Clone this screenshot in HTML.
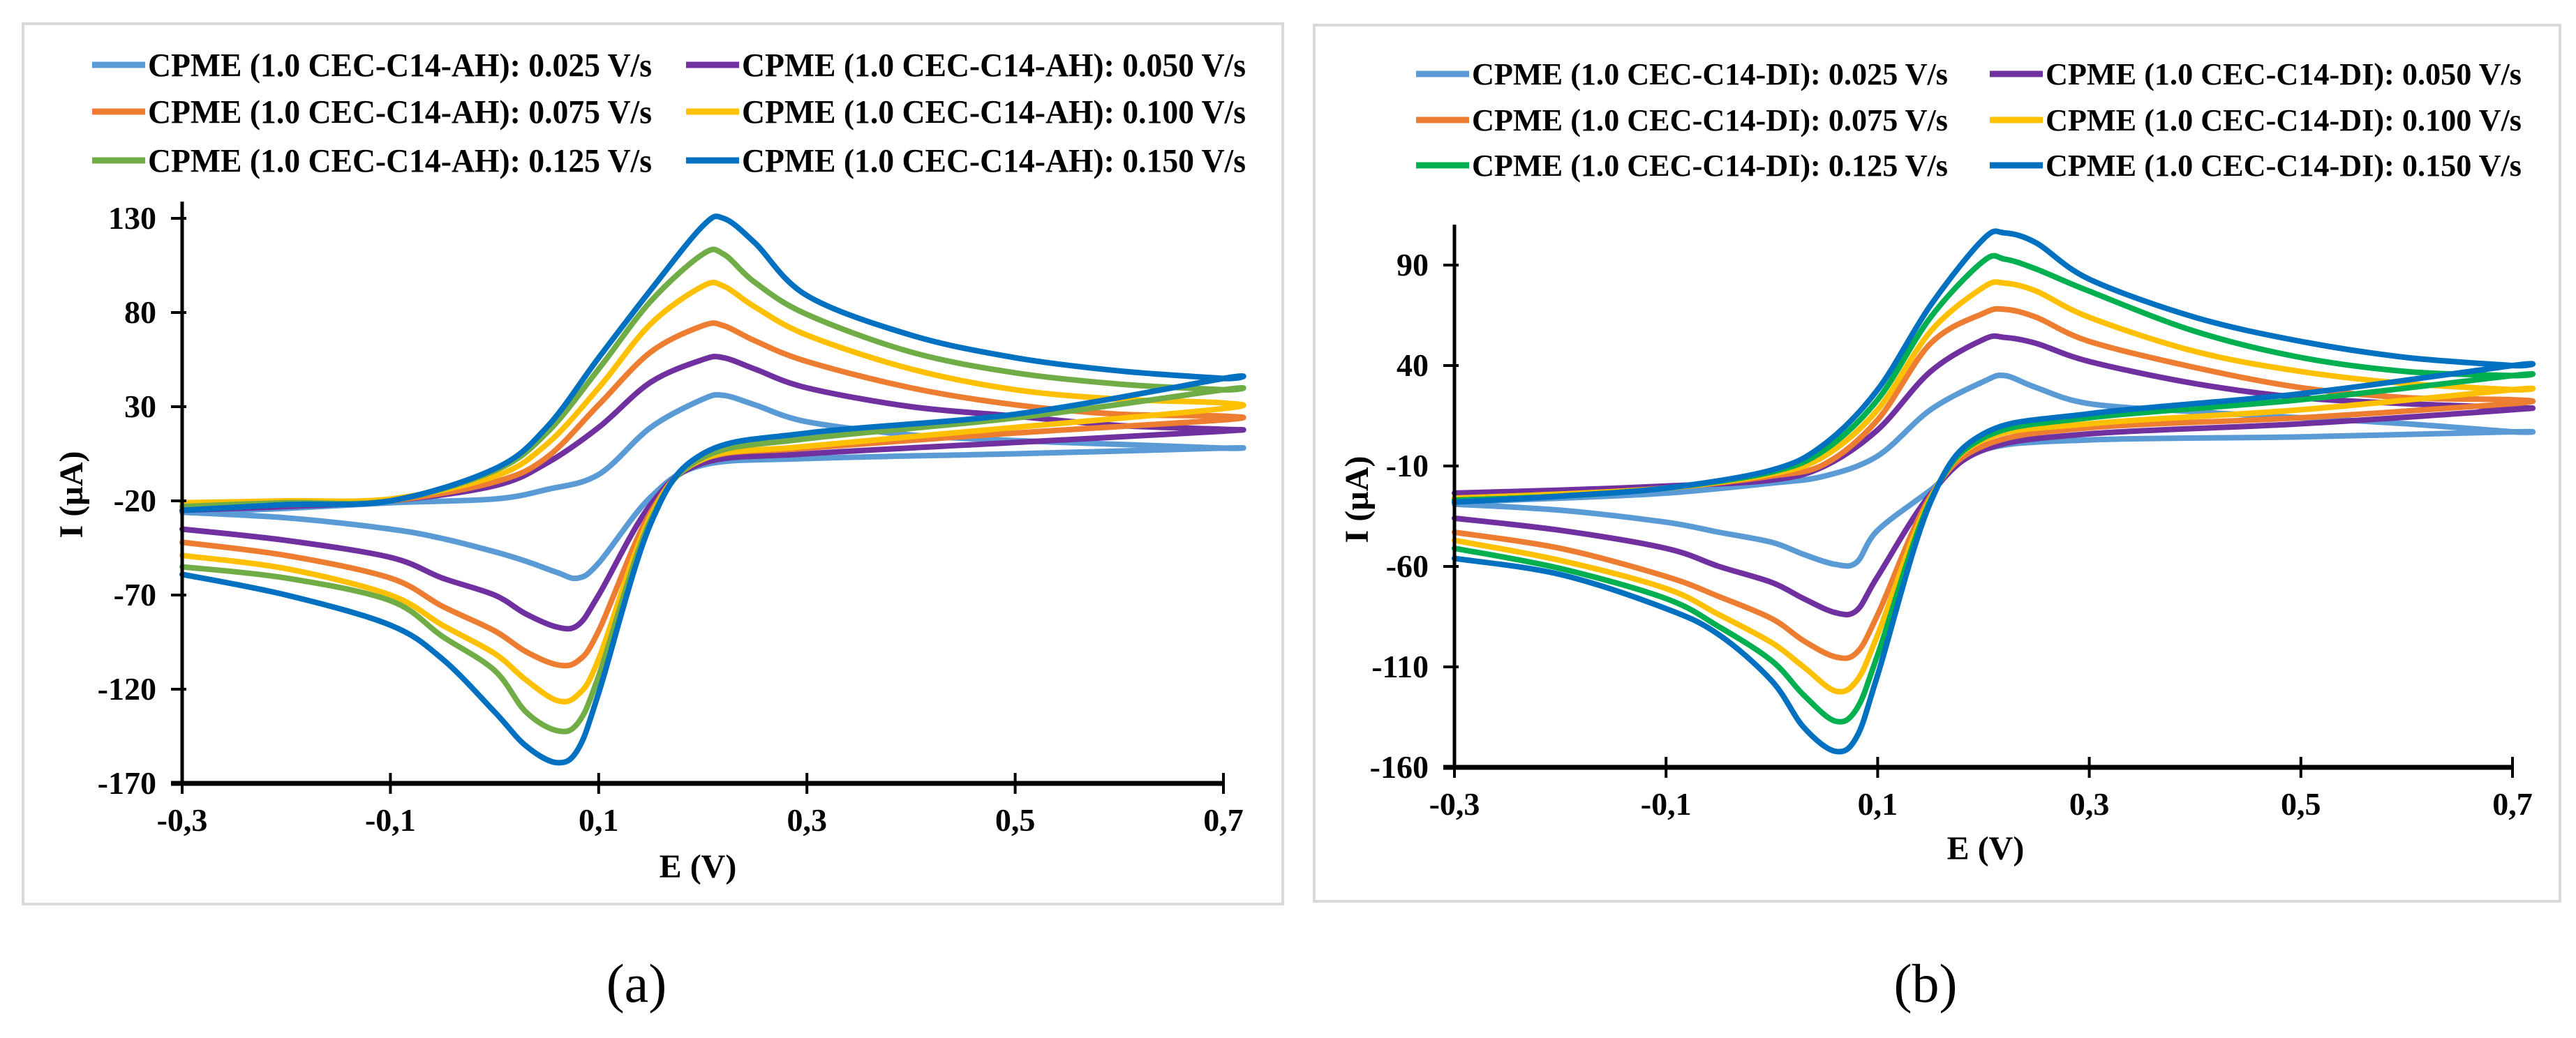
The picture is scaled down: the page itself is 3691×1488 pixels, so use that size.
<!DOCTYPE html>
<html><head><meta charset="utf-8"><style>
html,body{margin:0;padding:0;background:#fff;}
svg{display:block;}
text{font-family:"Liberation Serif",serif;}
</style></head><body>
<svg id="fig" width="3691" height="1488" viewBox="0 0 3691 1488" xmlns="http://www.w3.org/2000/svg"></svg>
<script>
// ---- shared data ----
const upperE = [-0.3,-0.2,-0.1,0,0.05,0.1,0.15,0.2,0.22,0.25,0.3,0.4,0.5,0.6,0.7];
const lowerE = [0.7,0.5,0.3,0.2,0.15,0.1,0.08,0.06,0.03,0,-0.05,-0.1,-0.2,-0.3];
const scanRates = ["0.025","0.050","0.075","0.100","0.125","0.150"];
const xTicks = [-0.3,-0.1,0.1,0.3,0.5,0.7];
const xTickLabels = ["-0,3","-0,1","0,1","0,3","0,5","0,7"];
// panel a
const aYTicks = [130,80,30,-20,-70,-120,-170];
const aUp = [
 [-26,-24,-21,-19,-14,-6,19,34,36,31,22,15,12,10,8],
 [-25,-23,-20,-12,0,19,43,55,56,50,40,30,25,20,18],
 [-23,-22,-20,-10,3,31,59,73,73,65,54,40,31,26,25],
 [-21,-20,-19,-7,10,40,74,94,94,83,68,50,39,34,32],
 [-23,-21,-20,-4,16,50,86,111,111,96,79,59,48,42,39],
 [-25,-22,-20,-3,19,56,92,126,130,117,89,68,56,49,45]];
const aLow = [
 [8,5,2.5,-1,-18,-53,-61,-58,-52,-47,-40,-35,-29,-26],
 [17,11,5,0,-22,-70,-86,-87,-80,-70,-61,-50,-41,-35],
 [23,16,8,2,-26,-89,-105,-107,-100,-89,-76,-61,-49,-42],
 [29,19,9,2,-28,-104,-123,-126,-115,-101,-86,-70,-56,-49],
 [39,24,13,3,-30,-113,-138,-142,-132,-110,-92,-73,-61,-55],
 [45,26,16,5,-32,-122,-152,-159,-150,-132,-104,-86,-70,-59]];
// panel b
const bYTicks = [90,40,-10,-60,-110,-160];
const bUp = [
 [-28,-26,-23.5,-18.5,-15,-5,18,32,35,29,21,17,14,11,7],
 [-23.5,-22,-20,-17,-10,8,37,53,54,51,42,31,24,21,19],
 [-26,-24,-21,-15,-9,13,51,66,68,64,52,39,29,24,23],
 [-26,-24,-21,-14,-5,18,57,79,81,77,64,47,37,31,28],
 [-27,-25,-21,-13,-2,23,64,92,93,88,77,57,44,37,35],
 [-28,-25,-21,-12,1,28,70,103,106,101,83,64,52,44,40]];
const bLow = [
 [7,4.5,3,-2,-22,-42,-58,-59,-54,-48,-43,-38,-32,-29],
 [18,11,6,-2,-24,-65,-82,-83,-76,-68,-60,-51,-42,-36],
 [21,14,9,0,-25,-84,-103,-105,-97,-86,-75,-65,-51,-43],
 [28,18,11,3,-26,-94,-117,-122,-110,-98,-84,-71,-57,-47],
 [35,23,14,4,-27,-104,-131,-137,-124,-107,-90,-76,-61,-51],
 [40,26,16,6,-28,-114,-145,-152,-140,-117,-94,-81,-64,-56]];

const NS="http://www.w3.org/2000/svg";
const svg=document.getElementById('fig');
function mk(tag,attrs,parent){const e=document.createElementNS(NS,tag);for(const k in attrs)e.setAttribute(k,attrs[k]);(parent||svg).appendChild(e);return e;}
function smooth(pts){
  let d='M'+pts[0][0].toFixed(1)+','+pts[0][1].toFixed(1);
  for(let i=0;i<pts.length-1;i++){
    const p0=pts[Math.max(0,i-1)],p1=pts[i],p2=pts[i+1],p3=pts[Math.min(pts.length-1,i+2)];
    const c1x=p1[0]+(p2[0]-p0[0])/6,c1y=p1[1]+(p2[1]-p0[1])/6;
    const c2x=p2[0]-(p3[0]-p1[0])/6,c2y=p2[1]-(p3[1]-p1[1])/6;
    d+=' C'+c1x.toFixed(1)+','+c1y.toFixed(1)+' '+c2x.toFixed(1)+','+c2y.toFixed(1)+' '+p2[0].toFixed(1)+','+p2[1].toFixed(1);
  }
  return d;
}

function panel(cfg){
  const g=mk('g',{});
  
  
  const fr=mk('rect',{x:cfg.box[0],y:cfg.box[1],width:cfg.box[2],height:cfg.box[3],fill:'#fff',stroke:'#d9d9d9','stroke-width':4},g);
  
  
  const xS=v=>cfg.x0+(v+0.3)/1.0*(cfg.x1-cfg.x0);
  const ymax=cfg.yTicks[0],ymin=cfg.yTicks[cfg.yTicks.length-1];
  const yS=v=>cfg.yTop+(ymax-v)/(ymax-ymin)*(cfg.yBot-cfg.yTop);
  // legend
  for(let i=0;i<6;i++){
    const col=i%2,row=Math.floor(i/2);
    const lx=cfg.legX[col],ly=cfg.legY[row];
    const lg=mk('g',{},g);
    
    
    mk('line',{x1:lx,y1:ly,x2:lx+76,y2:ly,stroke:cfg.colors[i],'stroke-width':9},lg);
    const t=mk('text',{x:lx+80,y:ly+cfg.legFont*0.34,'font-size':cfg.legFont,'font-weight':'bold',textLength:cfg.legW,lengthAdjust:'spacingAndGlyphs'},lg);
    t.textContent='CPME (1.0 CEC-C14-'+cfg.tag+'): '+scanRates[i]+' V/s';
  }
  // series
  for(let i=0;i<6;i++){
    const pts=[];
    upperE.forEach((e,k)=>pts.push([xS(e),yS(cfg.up[i][k])]));
    lowerE.forEach((e,k)=>pts.push([xS(e),yS(cfg.low[i][k])]));
    const p=mk('path',{d:smooth(pts),fill:'none',stroke:cfg.colors[i],'stroke-width':8,'stroke-linejoin':'round','stroke-linecap':'round'},g);
    
    
  }
  // axes
  const ya=mk('line',{x1:cfg.x0,y1:cfg.yAxisTop,x2:cfg.x0,y2:cfg.yBot,stroke:'#000','stroke-width':5},g);
  
  
  const xa=mk('line',{x1:cfg.x0-16,y1:cfg.yBot,x2:cfg.x1,y2:cfg.yBot,stroke:'#000','stroke-width':7},g);
  
  
  cfg.yTicks.forEach(v=>{
    const y=yS(v);
    mk('line',{x1:cfg.x0-16,y1:y,x2:cfg.x0+6,y2:y,stroke:'#000','stroke-width':4},g);
    const t=mk('text',{x:cfg.x0-37,y:y+15,'font-size':46,'font-weight':'bold','text-anchor':'end'},g);
    
    
    t.textContent=v;
  });
  xTicks.forEach((v,k)=>{
    const x=xS(v);
    mk('line',{x1:x,y1:cfg.yBot-15,x2:x,y2:cfg.yBot+15,stroke:'#000','stroke-width':4},g);
    const t=mk('text',{x:x,y:cfg.yBot+68,'font-size':46,'font-weight':'bold','text-anchor':'middle'},g);
    
    
    t.textContent=xTickLabels[k];
  });
  const xt=mk('text',{x:cfg.xTitle[0],y:cfg.xTitle[1],'font-size':48,'font-weight':'bold','text-anchor':'middle'},g);
  
  
  xt.textContent='E (V)';
  const yt=mk('text',{x:0,y:0,'font-size':48,'font-weight':'bold','text-anchor':'middle',transform:'translate('+cfg.yTitle[0]+','+cfg.yTitle[1]+') rotate(-90)'},g);
  
  
  yt.textContent='I (µA)';
  const lab=mk('text',{x:cfg.label[0],y:cfg.label[1],'font-size':78,'text-anchor':'middle'},g);
  
  
  lab.textContent=cfg.labelText;
}

panel({name:'chart-a',tag:'AH',box:[33,34,1805,1262],x0:261,x1:1753,yTop:313,yBot:1123,yAxisTop:289,
  yTicks:aYTicks,up:aUp,low:aLow,
  colors:['#5B9BD5','#7030A0','#ED7D31','#FFC000','#70AD47','#0070C0'],
  legX:[132,983],legY:[93,160,230],legFont:48,legW:722,
  xTitle:[1000,1258],yTitle:[118,709],label:[912,1436],labelText:'(a)'});
panel({name:'chart-b',tag:'DI',box:[1883,36,1785,1256],x0:2084,x1:3600,yTop:380,yBot:1100,yAxisTop:322,
  yTicks:bYTicks,up:bUp,low:bLow,
  colors:['#5B9BD5','#7030A0','#ED7D31','#FFC000','#00B050','#0070C0'],
  legX:[2029,2851],legY:[106,172,237],legFont:44,legW:682,
  xTitle:[2845,1232],yTitle:[1960,716],label:[2759,1436],labelText:'(b)'});
</script>
</body></html>
